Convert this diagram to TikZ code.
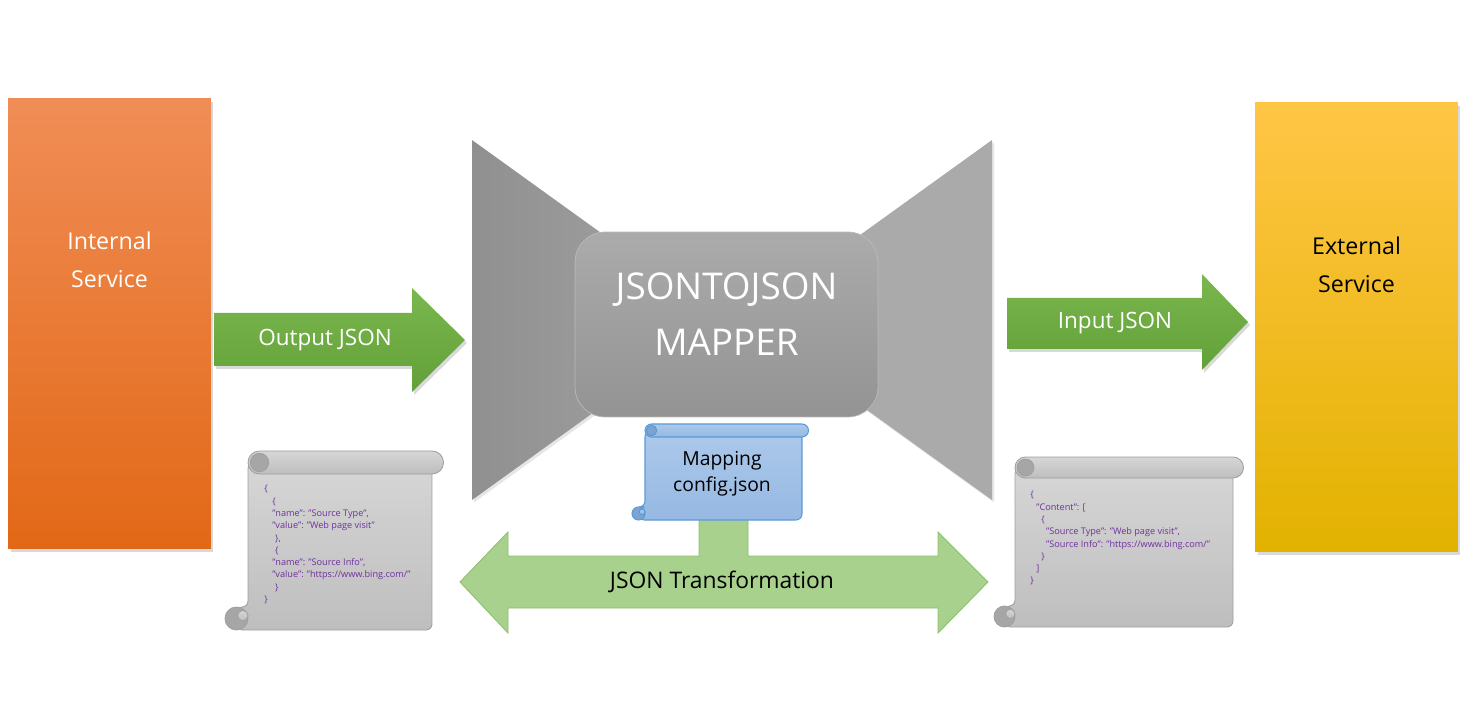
\documentclass[tikz,border=0pt]{standalone}
\usepackage{fontspec}
\setmainfont{Open Sans}
\usetikzlibrary{shadows}

\definecolor{orangetop}{RGB}{240,141,86}
\definecolor{orangemid}{RGB}{245,128,42}
\definecolor{orangebot}{RGB}{226,104,22}
\definecolor{yellowtop}{RGB}{255,198,70}
\definecolor{yellowmid}{RGB}{255,192,0}
\definecolor{yellowbot}{RGB}{226,178,0}
\definecolor{greentop}{RGB}{122,183,78}
\definecolor{greenbot}{RGB}{98,160,56}
\definecolor{lightgreen}{RGB}{169,209,142}
\definecolor{lightgreenline}{RGB}{140,192,108}
\definecolor{funnelleft}{RGB}{144,144,144}
\definecolor{funnelmid}{RGB}{158,158,158}
\definecolor{funnelright}{RGB}{170,170,170}
\definecolor{mappertop}{RGB}{171,171,171}
\definecolor{mapperbot}{RGB}{147,147,147}
\definecolor{mapperline}{RGB}{186,186,186}
\definecolor{paptop}{RGB}{214,214,214}
\definecolor{papbot}{RGB}{190,190,190}
\definecolor{papline}{RGB}{160,160,160}
\definecolor{papcurl}{RGB}{166,166,166}
\definecolor{notetop}{RGB}{172,201,235}
\definecolor{notebot}{RGB}{150,184,226}
\definecolor{noteline}{RGB}{91,155,213}
\definecolor{notecurl}{RGB}{124,163,209}
\definecolor{codepurple}{RGB}{112,48,160}

% scroll: left, top, right, bottom, roll height, style
\newcommand{\drawscroll}[6]{%
  \pgfmathsetmacro\scrr{#5/2}%
  \pgfmathsetmacro\scrrad{#5*0.01}%
  \path[#6, rounded corners=0.12cm] (#1,#2+\scrr) -- (#3,#2+\scrr) -- (#3,#4) -- (#1-\scrr,#4) -- (#1-\scrr,#4-#5) -- (#1,#4-#5) -- cycle;
  \path[#6, rounded corners=\scrrad cm] (#1,#2) rectangle (#3+\scrr,#2+#5);
  \path[#6curl] (#1+\scrr,#2+\scrr) circle[radius=0.8*\scrr];
  \path[#6curl] (#1-\scrr,#4-\scrr) circle[radius=\scrr];
  \path[#6] (#1-0.45*\scrr,#4-1.25*\scrr) circle[radius=0.45*\scrr];
}

\begin{document}
\begin{tikzpicture}[x=0.02cm, y=-0.02cm,
    svcbox/.style={minimum width=4.06cm, minimum height=9cm, inner sep=0pt,
      drop shadow={opacity=0.3, shadow xshift=0.05cm, shadow yshift=-0.07cm}},
    svctext/.style={font=\fontsize{13.2}{21.5}\selectfont, align=center},
    funnel/.style={drop shadow={opacity=0.2, shadow xshift=0.04cm, shadow yshift=-0.05cm}},
    mapperbox/.style={draw=mapperline, top color=mappertop, bottom color=mapperbot,
      rounded corners=0.6cm, minimum width=6.06cm, minimum height=3.7cm},
    mappertext/.style={text=white, font=\fontsize{21}{32}\selectfont, align=center},
    blockarrow/.style={top color=greentop, bottom color=greenbot,
      drop shadow={opacity=0.3, shadow xshift=0.04cm, shadow yshift=-0.06cm}},
    arrowtext/.style={text=white, font=\fontsize{12.8}{15}\selectfont},
    twoway/.style={fill=lightgreen, draw=lightgreenline, line width=0.5pt},
    paper/.style={draw=papline, top color=paptop, bottom color=papbot, line width=0.5pt},
    papercurl/.style={draw=papline, fill=papcurl, line width=0.5pt},
    note/.style={draw=noteline, top color=notetop, bottom color=notebot, line width=0.6pt},
    notecurl/.style={draw=noteline, fill=notecurl, line width=0.6pt},
    code/.style={font=\fontsize{5.2}{7}\selectfont, text=codepurple, align=left,
      anchor=north west, inner sep=0pt}
  ]
  \useasboundingbox (0,0) rectangle (1464,702);

  % services
  \node[svcbox, top color=orangetop, middle color=orangemid, bottom color=orangebot] (internal) at (109.5,323.5) {};
  \node[svctext, text=white] (internaltxt) at (109.5,260) {Internal\\Service};
  \node[svcbox, top color=yellowtop, middle color=yellowmid, bottom color=yellowbot] (external) at (1356.5,327) {};
  \node[svctext] (externaltxt) at (1356.5,265) {External\\Service};

  % mapper
  \path[funnel, left color=funnelleft, right color=funnelmid] (472,140) -- (640,261) -- (640,379) -- (472,500) -- cycle;
  \path[funnel, fill=funnelright] (992,140) -- (824,261) -- (824,379) -- (992,500) -- cycle;
  \node[mapperbox] (mapper) at (726.5,324.5) {};
  \node[mappertext] (mappertxt) at (726.5,314) {JSONTOJSON\\MAPPER};

  % in and out
  \path[blockarrow] (214,313) -- (412,313) -- (412,288) -- (465,340) -- (412,392) -- (412,366) -- (214,366) -- cycle;
  \node[arrowtext] (outjson) at (325,340) {Output JSON};
  \path[blockarrow] (1007,298) -- (1202,298) -- (1202,274) -- (1248,322) -- (1202,370) -- (1202,349) -- (1007,349) -- cycle;
  \node[arrowtext] (injson) at (1115,323) {Input JSON};

  % transformation
  \path[twoway] (460,582) -- (508,532) -- (508,556) -- (699,556) -- (699,518) -- (748,518) -- (748,556)
    -- (938,556) -- (938,532) -- (988,582) -- (938,633) -- (938,608) -- (508,608) -- (508,633) -- cycle;
  \node[font=\fontsize{13}{15}\selectfont] (transform) at (722,582) {JSON Transformation};

  % config
  \drawscroll{645}{424}{802}{520}{13}{note}
  \node[font=\fontsize{11}{14.7}\selectfont, align=center] (mapping) at (722,474) {Mapping\\config.json};

  % source json
  \drawscroll{248}{451}{432}{630}{23}{paper}
  \node[code] (srcjson) at (264,485) {\{\\
    \hspace*{4.5pt}\{\\
    \hspace*{4.5pt}"name": "Source Type",\\
    \hspace*{4.5pt}"value": "Web page visit"\\
    \hspace*{6.2pt}\},\\
    \hspace*{6.2pt}\{\\
    \hspace*{4.5pt}"name": "Source Info",\\
    \hspace*{4.5pt}"value": "https://www.bing.com/"\\
    \hspace*{6.2pt}\}\\
    \}};

  % target json
  \drawscroll{1015}{457}{1233}{627}{21}{paper}
  \node[code] (dstjson) at (1030,491) {\{\\
    \hspace*{3.4pt}"Content": [\\
    \hspace*{6.2pt}\{\\
    \hspace*{9pt}"Source Type": "Web page visit",\\
    \hspace*{9pt}"Source Info": "https://www.bing.com/"\\
    \hspace*{6.2pt}\}\\
    \hspace*{3.4pt}]\\
    \}};
\end{tikzpicture}
\end{document}
